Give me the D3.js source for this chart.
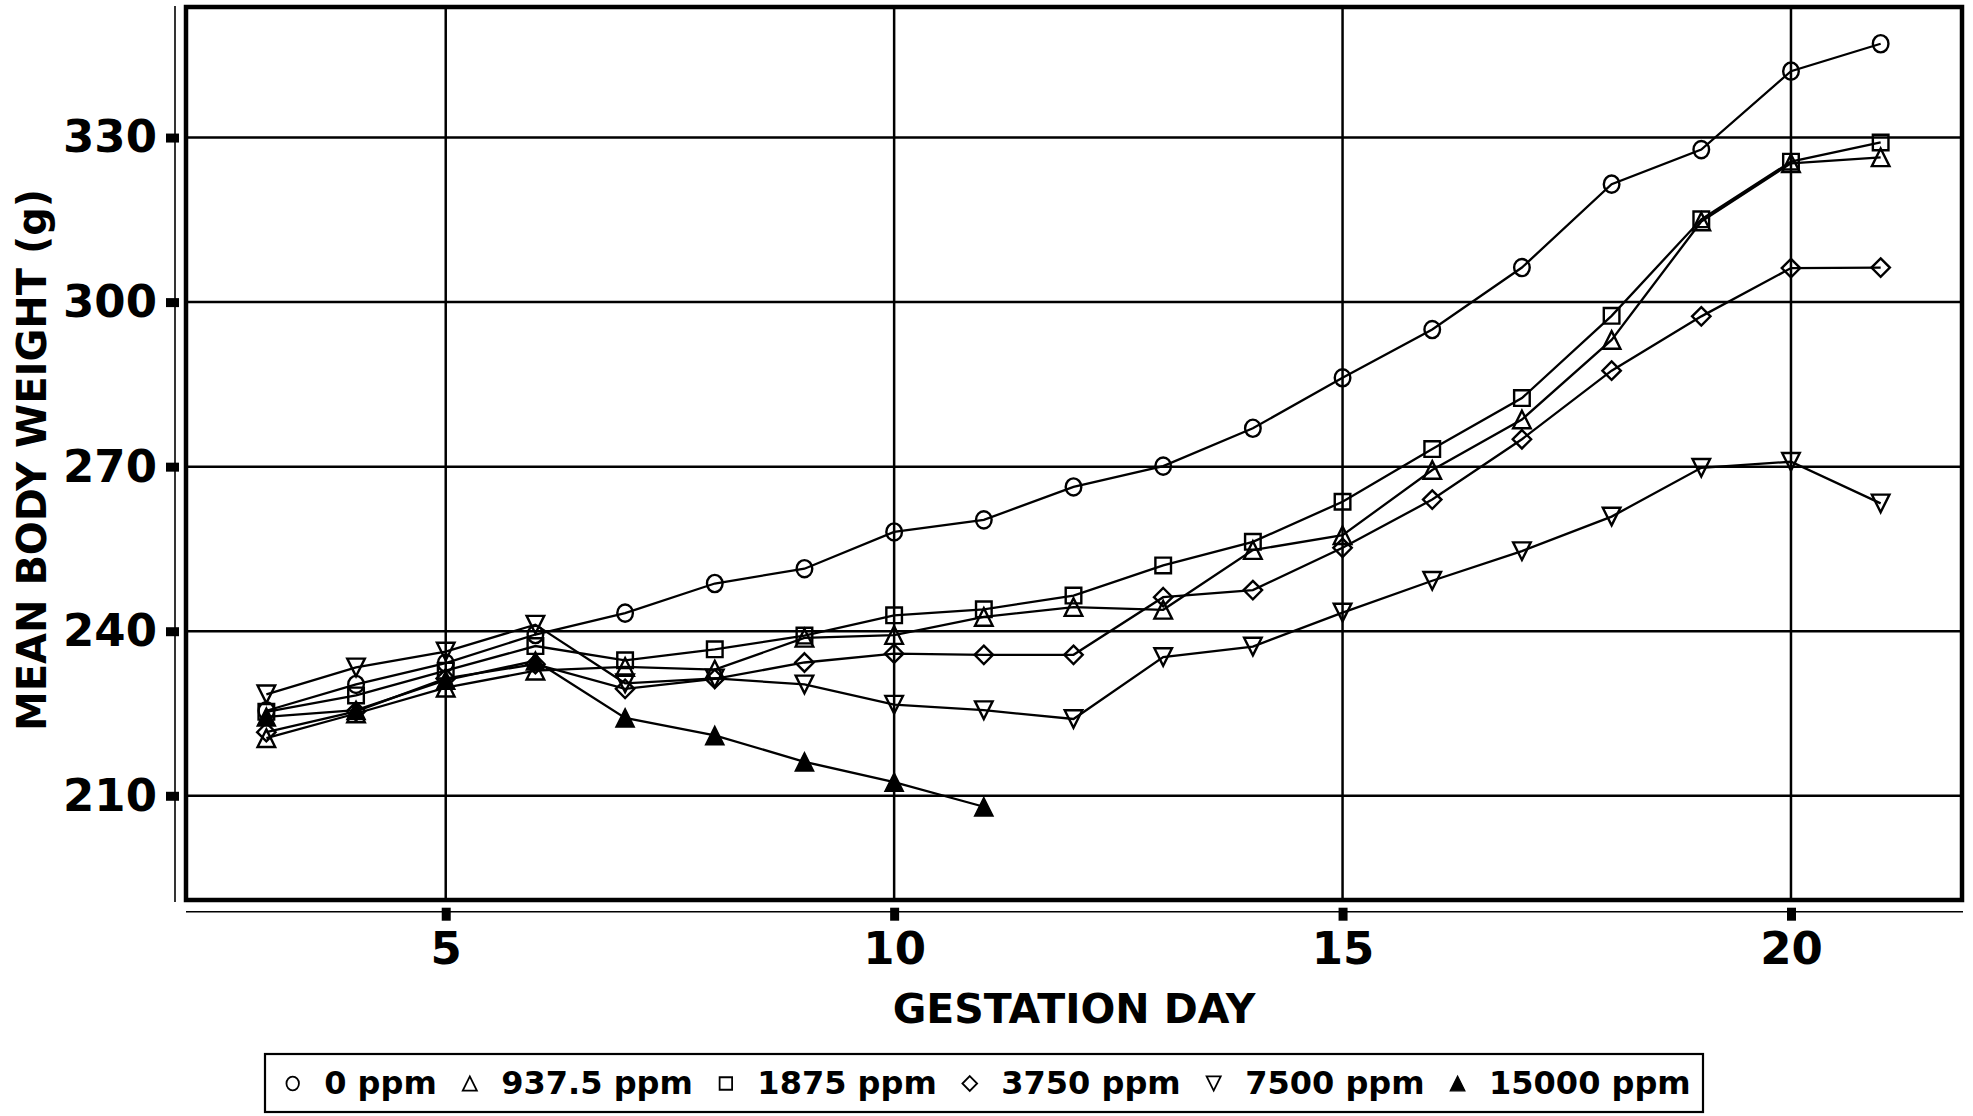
<!DOCTYPE html>
<html>
<head>
<meta charset="utf-8">
<script src="https://cdn.jsdelivr.net/npm/d3@7"></script>
<style>
body{margin:0;background:#fff;}
text{font-family:"DejaVu Sans",sans-serif;font-weight:bold;}
</style>
</head>
<body>
<svg id="chart"></svg>
<script>
//values (mean body weight in g, by gestation day)
var days = [3,4,5,6,7,8,9,10,11,12,13,14,15,16,17,18,19,20,21];
var days15000 = [3,4,5,6,7,8,9,10,11];
var ppm0 = [225.5,230.3,234.2,239.4,243.3,248.7,251.4,258.1,260.3,266.3,270.1,277.0,286.2,295.0,306.3,321.5,327.8,342.1,347.1];
var ppm937 = [220.5,225.0,229.7,232.8,233.5,233.0,238.8,239.3,242.6,244.4,243.9,254.8,257.5,269.4,278.6,293.1,314.7,325.3,326.4];
var ppm1875 = [225.3,228.3,232.8,237.3,234.7,236.7,239.2,242.9,244.0,246.5,252.0,256.3,263.6,273.2,282.5,297.5,315.1,325.6,329.1];
var ppm3750 = [221.6,225.4,231.4,234.0,229.5,231.3,234.3,235.9,235.7,235.7,246.2,247.5,255.2,264.0,275.0,287.5,297.4,306.2,306.3];
var ppm7500 = [228.5,233.4,236.3,241.2,230.5,231.4,230.3,226.6,225.6,224.0,235.3,237.2,243.4,249.2,254.6,260.9,269.8,270.9,263.3];
var ppm15000 = [224.4,225.6,231.1,234.6,224.2,221.0,216.2,212.5,208.0];
var seriesNames = ['0 ppm','937.5 ppm','1875 ppm','3750 ppm','7500 ppm','15000 ppm'];
var seriesShapes = ['circle','triangle','square','diamond','triangleDown','triangleFilled'];
var xTicks = [5,10,15,20];
var yTicks = [210,240,270,300,330];

/*********layout************/
var width = 1973;
var height = 1116;
var plot = {left:186,right:1962,top:7,bottom:900};
var svg = d3.select('#chart')
	.attr('width',width)
	.attr('height',height);

var xScale = d3.scaleLinear()
	.domain([2.104,21.907])
	.range([plot.left,plot.right]);
var yScale = d3.scaleLinear()
	.domain([191.0,353.8])
	.range([plot.bottom,plot.top]);

//grid lines
var gridG = svg.append('g');
gridG.selectAll('.vg').data(xTicks).enter().append('line')
	.attr('x1',function(d){return xScale(d);})
	.attr('x2',function(d){return xScale(d);})
	.attr('y1',plot.top).attr('y2',plot.bottom)
	.attr('stroke','#000').attr('stroke-width',2.5);
gridG.selectAll('.hg').data(yTicks).enter().append('line')
	.attr('x1',plot.left).attr('x2',plot.right)
	.attr('y1',function(d){return yScale(d);})
	.attr('y2',function(d){return yScale(d);})
	.attr('stroke','#000').attr('stroke-width',2.5);

//axes, offset from the frame
var axisY = d3.axisLeft(yScale).tickValues(yTicks).tickSize(9).tickPadding(9).tickSizeOuter(0);
var axisYG = svg.append('g')
	.attr('transform','translate(175,0)')
	.call(axisY);
axisYG.select('.domain').attr('d','M0,6V902').attr('stroke-width',1.6);
axisYG.selectAll('.tick line').attr('x1',4).attr('x2',-9).attr('stroke-width',9);
axisYG.selectAll('.tick text')
	.attr('font-size',45)
	.attr('font-family','"DejaVu Sans",sans-serif')
	.attr('font-weight','bold');

var axisX = d3.axisBottom(xScale).tickValues(xTicks).tickSize(9).tickPadding(11).tickSizeOuter(0);
var axisXG = svg.append('g')
	.attr('transform','translate(0,911.7)')
	.call(axisX);
axisXG.select('.domain').attr('d','M186,0H1963').attr('stroke-width',1.6);
axisXG.selectAll('.tick line').attr('y1',-4).attr('y2',9).attr('stroke-width',9);
axisXG.selectAll('.tick text')
	.attr('font-size',45)
	.attr('font-family','"DejaVu Sans",sans-serif')
	.attr('font-weight','bold');

//axis titles
svg.append('text')
	.attr('x',1074).attr('y',1023)
	.attr('text-anchor','middle')
	.attr('font-size',41)
	.text('GESTATION DAY');
svg.append('text')
	.attr('transform','translate(46,460) rotate(-90)')
	.attr('text-anchor','middle')
	.attr('font-size',40)
	.text('MEAN BODY WEIGHT (g)');

/*********markers************/
function markerPath(shape,k){
	var s;
	if(shape=='square'){s=7.8*k;return 'M'+(-s)+','+(-s)+'H'+s+'V'+s+'H'+(-s)+'Z';}
	if(shape=='diamond'){s=9.2*k;return 'M0,'+(-s)+'L'+s+',0L0,'+s+'L'+(-s)+',0Z';}
	if(shape=='triangle'){s=8.8*k;return 'M0,'+(-s)+'L'+s+','+s+'L'+(-s)+','+s+'Z';}
	if(shape=='triangleFilled'){s=9.2*k;return 'M0,'+(-s)+'L'+s+','+s+'L'+(-s)+','+s+'Z';}
	if(shape=='triangleDown'){s=8.8*k;return 'M0,'+s+'L'+s+','+(-s)+'L'+(-s)+','+(-s)+'Z';}
	var rx=7.8*k, ry=8.6*k;
	return 'M'+(-rx)+',0A'+rx+','+ry+' 0 1,0 '+rx+',0A'+rx+','+ry+' 0 1,0 '+(-rx)+',0Z';
}

var series = [
	{x:days,y:ppm0},
	{x:days,y:ppm937},
	{x:days,y:ppm1875},
	{x:days,y:ppm3750},
	{x:days,y:ppm7500},
	{x:days15000,y:ppm15000}
];
var line = d3.line()
	.x(function(d){return xScale(d[0]);})
	.y(function(d){return yScale(d[1]);});
var chartG = svg.append('g');
series.forEach(function(s,i){
	var pts = s.x.map(function(d,j){return [d,s.y[j]];});
	chartG.append('path')
		.attr('d',line(pts))
		.attr('fill','none')
		.attr('stroke','#000')
		.attr('stroke-width',2.3);
	var filled = seriesShapes[i]=='triangleFilled';
	chartG.selectAll('.m'+i).data(pts).enter().append('path')
		.attr('transform',function(d){return 'translate('+xScale(d[0])+','+yScale(d[1])+')';})
		.attr('d',markerPath(seriesShapes[i],1))
		.attr('fill',filled?'#000':'none')
		.attr('stroke','#000')
		.attr('stroke-width',filled?1.5:2.4);
});

//frame on top
svg.append('rect')
	.attr('x',plot.left).attr('y',plot.top)
	.attr('width',plot.right-plot.left).attr('height',plot.bottom-plot.top)
	.attr('fill','none').attr('stroke','#000').attr('stroke-width',4.5);

/*********legend************/
var legendG = svg.append('g');
legendG.append('rect')
	.attr('x',265).attr('y',1054).attr('width',1438).attr('height',58)
	.attr('fill','#fff').attr('stroke','#000').attr('stroke-width',2.2);
var texts = [];
seriesNames.forEach(function(n){
	texts.push(legendG.append('text').attr('y',1094).attr('font-size',32).text(n));
});
var widths = texts.map(function(t){return t.node().getComputedTextLength();});
var firstX = 292.7, lastEnd = 1690.7, textOff = 31.5;
var gap = (lastEnd-firstX-d3.sum(widths)-6*textOff)/5;
var cx = firstX;
seriesShapes.forEach(function(shape,i){
	var filled = shape=='triangleFilled';
	legendG.append('path')
		.attr('transform','translate('+cx+',1083.5)')
		.attr('d',markerPath(shape,0.8))
		.attr('fill',filled?'#000':'none')
		.attr('stroke','#000')
		.attr('stroke-width',filled?1.2:1.8);
	texts[i].attr('x',cx+textOff);
	cx = cx+textOff+widths[i]+gap;
});
</script>
</body>
</html>
